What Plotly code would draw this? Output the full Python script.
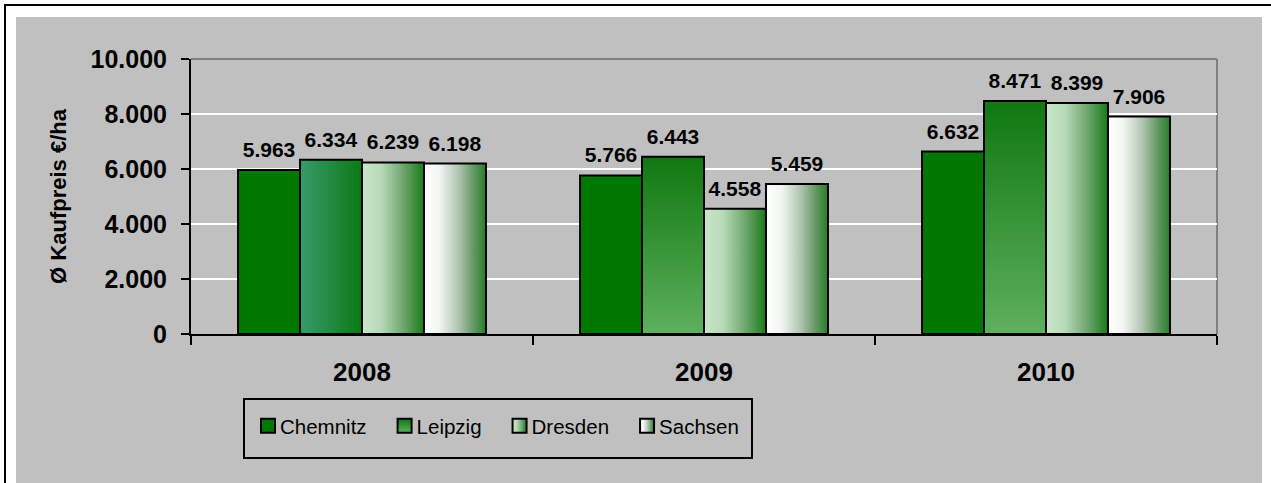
import plotly.graph_objects as go

years = ["2008", "2009", "2010"]
regions = ["Chemnitz", "Leipzig", "Dresden", "Sachsen"]
chemnitz = [5963, 5766, 6632]
leipzig = [6334, 6443, 8471]
dresden = [6239, 4558, 8399]
sachsen = [6198, 5459, 7906]
y_ticks = [0, 2000, 4000, 6000, 8000, 10000]
y_title = "Ø Kaufpreis €/ha"

series = [chemnitz, leipzig, dresden, sachsen]
base_colors = ["#007800", "#2e8f3a", "#8fbf8f", "#c8dcc8"]

FONT = "Arial, 'Liberation Sans', sans-serif"

# plot-area pixel geometry (for decorative frame shapes)
W, H = 1271, 483
ML, MR, MT, MB = 191, 54, 59, 149
PW = W - ML - MR
PH = H - MT - MB


def px_x(px):
    return (px - ML) / PW


def px_y(py):
    return (H - MB - py) / PH


fig = go.Figure()
for name, vals, col in zip(regions, series, base_colors):
    fig.add_trace(go.Bar(
        name=name, x=years, y=vals,
        marker=dict(color=col, line=dict(color="black", width=2)),
        texttemplate="%{y:,}", textposition="outside",
        textfont=dict(family=FONT, size=21, color="black", weight="bold"),
        cliponaxis=False, constraintext="none",
    ))

shapes = [
    # grey chart area
    dict(type="rect", xref="paper", yref="paper", layer="below",
         x0=px_x(16), x1=px_x(1262), y0=px_y(500), y1=px_y(17),
         fillcolor="#c0c0c0", line=dict(width=0)),
    # outer black frame (top/left)
    dict(type="line", xref="paper", yref="paper",
         x0=px_x(4), x1=px_x(1275), y0=px_y(5), y1=px_y(5),
         line=dict(color="black", width=2)),
    dict(type="line", xref="paper", yref="paper",
         x0=px_x(5), x1=px_x(5), y0=px_y(4), y1=px_y(490),
         line=dict(color="black", width=2)),
    # plot area top/right border
    dict(type="line", xref="paper", yref="paper", layer="below",
         x0=0, x1=1, y0=1, y1=1, line=dict(color="#808080", width=2)),
    dict(type="line", xref="paper", yref="paper", layer="below",
         x0=1, x1=1, y0=0, y1=1, line=dict(color="#808080", width=2)),
    # legend frame
    dict(type="rect", xref="paper", yref="paper",
         x0=px_x(244), x1=px_x(752), y0=px_y(458), y1=px_y(399),
         fillcolor="rgba(0,0,0,0)", line=dict(color="black", width=2)),
]

fig.update_layout(
    width=W, height=H,
    margin=dict(l=ML, r=MR, t=MT, b=MB, autoexpand=False),
    paper_bgcolor="white", plot_bgcolor="#c0c0c0",
    separators=",.",
    barmode="group", bargap=0.275, bargroupgap=0,
    font=dict(family=FONT, color="black"),
    showlegend=True,
    legend=dict(
        orientation="h", x=px_x(245.5), y=px_y(406), xanchor="left", yanchor="top",
        bgcolor="rgba(0,0,0,0)", borderwidth=0,
        font=dict(family=FONT, size=20.5, color="black"),
        itemwidth=35, traceorder="normal",
    ),
    shapes=shapes,
    xaxis=dict(
        type="category", showline=True, linecolor="black", linewidth=2,
        ticks="outside", tickson="boundaries", ticklen=9, tickwidth=2, tickcolor="black",
        tickfont=dict(family=FONT, size=26, weight="bold"),
        ticklabelstandoff=14, showgrid=False, fixedrange=True,
    ),
    yaxis=dict(
        range=[0, 10000], tickvals=y_ticks, tickformat=",",
        showline=True, linecolor="black", linewidth=2,
        ticks="outside", ticklen=8, tickwidth=2, tickcolor="black",
        tickfont=dict(family=FONT, size=25, weight="bold"),
        ticklabelstandoff=9,
        showgrid=True, gridcolor="white", gridwidth=2, zeroline=False,
        title=dict(text=y_title, font=dict(family=FONT, size=22, weight="bold"), standoff=18),
        automargin=False, fixedrange=True,
    ),
)

post = r"""
document.body.style.margin = '0';
document.body.style.padding = '0';
var gd = document.getElementById('{plot_id}');
var NS = 'http://www.w3.org/2000/svg';
function ensureDefs(){
  if (document.getElementById('gradHolder')) return;
  var svg = document.createElementNS(NS, 'svg');
  svg.setAttribute('id', 'gradHolder');
  svg.setAttribute('width', '0'); svg.setAttribute('height', '0');
  svg.style.position = 'absolute'; svg.style.left = '0'; svg.style.top = '0';
  var defs = document.createElementNS(NS, 'defs');
  function mk(id, vertical, stops){
    var g = document.createElementNS(NS, 'linearGradient');
    g.setAttribute('id', id);
    g.setAttribute('x1', '0'); g.setAttribute('y1', '0');
    g.setAttribute('x2', vertical ? '0' : '1'); g.setAttribute('y2', vertical ? '1' : '0');
    stops.forEach(function(s){
      var st = document.createElementNS(NS, 'stop');
      st.setAttribute('offset', s[0]); st.setAttribute('stop-color', s[1]);
      g.appendChild(st);
    });
    defs.appendChild(g);
  }
  mk('gLeipH', false, [[0,'#389b6d'],[1,'#0a7a14']]);
  mk('gLeipV', true, [[0,'#107810'],[1,'#5eb05e']]);
  mk('gDres', false, [[0,'#c8e6c8'],[0.3,'#b9dab9'],[0.65,'#72a872'],[1,'#187c18']]);
  mk('gSach', false, [[0,'#ffffff'],[0.25,'#f2f5f2'],[0.55,'#b2c6b2'],[0.8,'#649864'],[1,'#267f26']]);
  svg.appendChild(defs);
  document.body.appendChild(svg);
}
function applyGrad(){
  ensureDefs();
  var traces = gd.querySelectorAll('.barlayer .trace');
  var fills = [null, ['gLeipH','gLeipV','gLeipV'], ['gDres','gDres','gDres'], ['gSach','gSach','gSach']];
  traces.forEach(function(tr, i){
    if (fills[i]) {
      tr.querySelectorAll('.point path').forEach(function(p, j){ p.style.fill = 'url(#' + fills[i][j] + ')'; });
    }
    tr.querySelectorAll('text.bartext').forEach(function(t){
      if (t.getAttribute('data-shifted')) return;
      var tf = t.getAttribute('transform') || '';
      t.setAttribute('transform', 'translate(0,-6) ' + tf);
      t.setAttribute('data-shifted', '1');
    });
  });
  var leg = gd.querySelectorAll('.legend .traces');
  var lf = [null, 'gLeipV', 'gDres', 'gSach'];
  leg.forEach(function(t, i){
    t.querySelectorAll('.legendpoints path').forEach(function(p){
      p.setAttribute('d', 'M7,7H-7V-7H7Z');
      if (lf[i]) p.style.fill = 'url(#' + lf[i] + ')';
    });
    var txt = t.querySelector('text.legendtext');
    if (txt) txt.setAttribute('x', '34.5');
  });
}
applyGrad();
gd.on('plotly_afterplot', applyGrad);
"""

fig.write_html("out.html", post_script=post, config={"displayModeBar": False, "responsive": False})
